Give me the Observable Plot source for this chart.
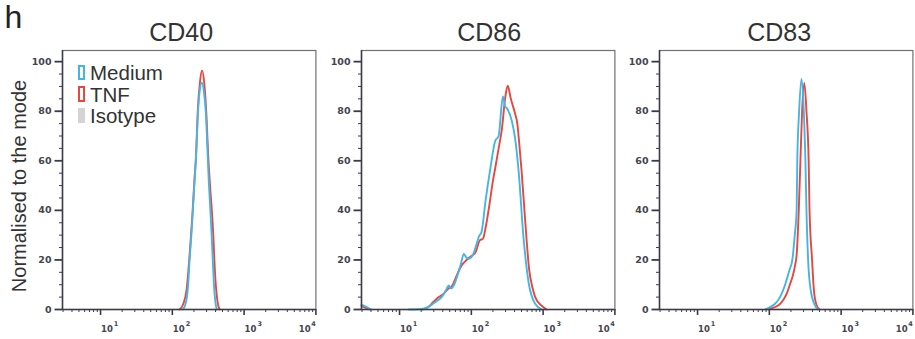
<!DOCTYPE html>
<html><head><meta charset="utf-8">
<script src="https://cdn.jsdelivr.net/npm/d3@7"></script>
<script src="https://cdn.jsdelivr.net/npm/@observablehq/plot@0.6"></script>
<style>
body{margin:0;background:#fff;}
#wrap{position:relative;width:915px;height:339px;overflow:hidden;font-family:"Liberation Sans",Arial,sans-serif;color:#333;}
.svgbox{position:absolute;top:0;width:326px;height:339px;}
.svgbox svg{max-width:none !important;width:326px;height:339px;}
.abs{position:absolute;white-space:nowrap;}
#letter{left:4.5px;top:1px;font-size:32px;line-height:1;color:#222;}
#ylab{left:18.5px;top:185.5px;font-size:20px;line-height:20px;transform:translate(-50%,-50%) rotate(-90deg);}
.lrow{position:absolute;left:78px;height:21.65px;width:120px;font-size:20.5px;line-height:21.65px;}
.lrow .box{position:absolute;left:0;top:2.5px;width:7px;height:15.5px;box-sizing:border-box;}
.lrow .lt{position:absolute;left:12px;top:0;}
</style></head>
<body><div id="wrap"></div>
<script>
// ---- data ----
const panelNames = ["CD40", "CD86", "CD83"];
const seriesNames = ["Medium", "TNF", "Isotype"];
const xTickValues = [10, 100, 1000, 10000];
const xTickBase = "10";
const xTickExponents = ["1", "2", "3", "4"];
const xMinorTicks = [3,4,5,6,7,8,9,20,30,40,50,60,70,80,90,200,300,400,500,600,700,800,900,2000,3000,4000,5000,6000,7000,8000,9000];
const yTickValues = [0, 20, 40, 60, 80, 100];
const yMinorTicks = [5,10,15,25,30,35,45,50,55,65,70,75,85,90,95];
const xDomain = [2.95, 10000];
const yDomain = [0, 104.5];

// CD40
const cd40MediumX = [141,155,166,174,184,193,204,214,226,240,257,275,295,309,324,339,353,366,380,398,417];
const cd40MediumY = [0,3,10,20,30,40,52,62,78,88,91.5,88,78,64,50,40,30,20,10,3,0];
const cd40TnfX = [126,141,158,172,182,192,204,214,226,243,260,279,299,316,335,355,372,385,403,427,457];
const cd40TnfY = [0,2,8,20,30,40,53,62,80,92,96.5,91,78,62,50,40,30,20,10,3,0];

// CD86
const cd86MediumEdgeX = [2.95,3.5,3.98];
const cd86MediumEdgeY = [2,1,0];
const cd86MediumX = [13.5,20,25.1,31.6,39.8,44.7,48.5,52.5,57.5,66.1,72.4,78.3,85.1,91.2,105,117,129,138,158,182,215,240,275,295,316,367,407,455,533,631,776,955];
const cd86MediumY = [0,0.2,1,3,5.5,8,9.7,8.5,10,15,19,22.4,21,20.5,22,26,29.8,31,44,56,68,70,86,82,81,76,69,56,29,10.5,2.3,0];
const cd86TnfEdgeX = [2.95,3.5,3.98];
const cd86TnfEdgeY = [1.5,0.5,0];
const cd86TnfX = [20.7,25.1,29.5,35.2,41.7,47.9,53.7,63.1,74.1,82.6,93.3,105,114,132,145,158,178,200,215,240,267,295,321,355,407,437,468,501,562,640,708,776,955,1122];
const cd86TnfY = [0,1,3,5,6.5,8.5,9.5,14,18,19.5,21,22,23,28,28.5,33,42,52,57,65,73,85,90.3,85,79,75,66,56,36,16,9,5,1.5,0];

// CD83
const cd83MediumX = [87.1,100,117,141,166,191,209,226,240,245,260,280,302,318,329,347,376,427,479];
const cd83MediumY = [0,0.8,2,5,10,16,20,30,40,60,80,93,80,60,40,20,8,2,0];
const cd83TnfX = [97.7,120,138,158,178,193,214,229,240,257,271,286,307,329,353,363,394,417,452,501];
const cd83TnfY = [0,1,2,4,7,10,14,18,22,40,60,80,91.4,80,60,40,20,8,2,0];

const titleOffsets = [-8, 1, -7];
const blue = "#45b6e4", red = "#e8473e", gray = "#d4d4d4";

// ---- build table ----
const rows = [];
function add(panel, series, seg, xs, ys) {
  xs.forEach((x, k) => rows.push({panel, series, seg: series + seg, x, y: ys[k]}));
}
add("CD40", "TNF", "a", cd40TnfX, cd40TnfY);
add("CD40", "Medium", "a", cd40MediumX, cd40MediumY);
add("CD86", "TNF", "e", cd86TnfEdgeX, cd86TnfEdgeY);
add("CD86", "TNF", "a", cd86TnfX, cd86TnfY);
add("CD86", "Medium", "e", cd86MediumEdgeX, cd86MediumEdgeY);
add("CD86", "Medium", "a", cd86MediumX, cd86MediumY);
add("CD83", "TNF", "a", cd83TnfX, cd83TnfY);
add("CD83", "Medium", "a", cd83MediumX, cd83MediumY);

const axisColor = "#3b3b48";
const wrap = document.getElementById("wrap");
const svgLefts = [0, 298.5, 597];
const W = 326, frameW = 253.4, mL = 62;

panelNames.forEach((name, i) => {
  const data = rows.filter(d => d.panel === name);
  const yFont = {fontFamily: "DejaVu Sans", fontSize: 9.5, fontWeight: "bold", fill: "#44444f"};
  const tickFont = {fontFamily: "DejaVu Sans", fontSize: 8.5, fontWeight: "bold", fill: "#44444f"};
  const expFont = {fontFamily: "DejaVu Sans", fontSize: 6.5, fontWeight: "bold", fill: "#44444f"};
  const first = xTickValues.slice(0, 3), last = xTickValues.slice(3);
  const chart = Plot.plot({
    width: W, height: 339,
    marginLeft: mL, marginRight: W - mL - frameW, marginTop: 50, marginBottom: 30,
    x: {type: "log", domain: xDomain, axis: null},
    y: {domain: yDomain, axis: null},
    color: {domain: ["Medium", "TNF"], range: [blue, red]},
    style: {background: "transparent", overflow: "visible", color: axisColor, maxWidth: "none"},
    marks: [
      Plot.frame({stroke: "#707078", strokeWidth: 1.2}),
      Plot.axisY(yMinorTicks, {tickSize: 3, tickFormat: () => "", label: null, strokeWidth: 1}),
      Plot.axisY(yTickValues, {tickSize: 7.5, tickPadding: 3.5, label: null, strokeWidth: 1.8, ...yFont}),
      Plot.axisX(xMinorTicks, {tickSize: 3, tickFormat: () => "", label: null, strokeWidth: 1}),
      Plot.axisX(xTickValues, {tickSize: 6, tickFormat: () => "", label: null, strokeWidth: 1.6}),
      // x tick labels: base "10" plus raised exponent
      Plot.text(first, {x: d => d, text: () => xTickBase, frameAnchor: "bottom", dy: 20, dx: 0.5,
        lineAnchor: "middle", textAnchor: "start", ...tickFont}),
      Plot.text(first, {x: d => d, text: d => xTickExponents[xTickValues.indexOf(d)], frameAnchor: "bottom",
        dy: 14.5, dx: 13.3, lineAnchor: "middle", textAnchor: "start", ...expFont}),
      Plot.text(last, {x: d => d, text: () => xTickBase, frameAnchor: "bottom", dy: 20, dx: -5.2,
        lineAnchor: "middle", textAnchor: "end", ...tickFont}),
      Plot.text(last, {x: d => d, text: d => xTickExponents[xTickValues.indexOf(d)], frameAnchor: "bottom",
        dy: 14.5, dx: 0, lineAnchor: "middle", textAnchor: "end", ...expFont}),
      Plot.line(data, {x: "x", y: "y", z: "seg", stroke: "series", curve: "monotone-x", strokeWidth: 1.9}),
      Plot.ruleX([xDomain[0]], {stroke: axisColor, strokeWidth: 1.5}),
      Plot.ruleY([yDomain[0]], {stroke: axisColor, strokeWidth: 1.5}),
      Plot.text([name], {text: d => d, frameAnchor: "top", dy: -18, dx: titleOffsets[i], lineAnchor: "middle",
        fontFamily: "Liberation Sans, Arial, sans-serif", fontSize: 25, fontWeight: "normal", fill: "#333"})
    ]
  });
  const box = document.createElement("div");
  box.className = "svgbox";
  box.style.left = svgLefts[i] + "px";
  box.appendChild(chart);
  wrap.appendChild(box);
});

// ---- text labels & legend ----
const letter = document.createElement("div");
letter.className = "abs"; letter.id = "letter"; letter.textContent = "h";
wrap.appendChild(letter);
const ylab = document.createElement("div");
ylab.className = "abs"; ylab.id = "ylab"; ylab.textContent = "Normalised to the mode";
wrap.appendChild(ylab);

const legendStyles = [
  {border: "2px solid " + blue, background: "transparent"},
  {border: "2px solid " + red, background: "transparent"},
  {border: "none", background: gray}
];
seriesNames.forEach((s, k) => {
  const r = document.createElement("div");
  r.className = "lrow";
  r.style.top = (62.1 + k * 21.65) + "px";
  const b = document.createElement("div");
  b.className = "box";
  b.style.border = legendStyles[k].border;
  b.style.background = legendStyles[k].background;
  const t = document.createElement("div");
  t.className = "lt"; t.textContent = s;
  r.appendChild(b); r.appendChild(t);
  wrap.appendChild(r);
});
</script>
</body></html>
